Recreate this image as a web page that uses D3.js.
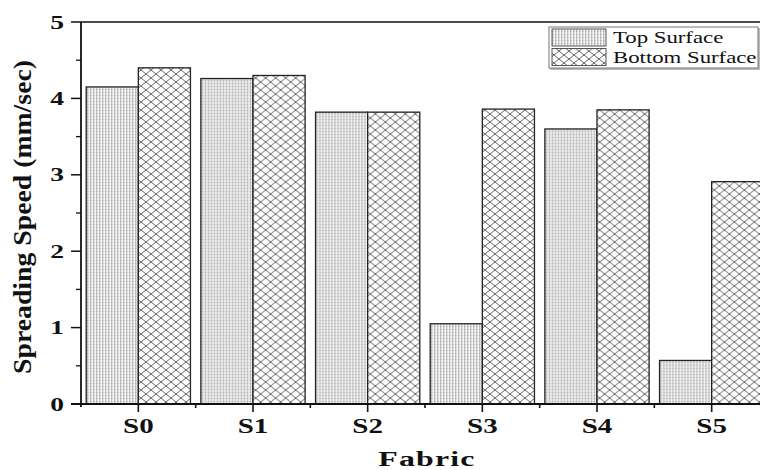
<!DOCTYPE html>
<html>
<head>
<meta charset="utf-8">
<script src="https://cdn.jsdelivr.net/npm/d3@7"></script>
<style>
  body { margin: 0; background: #fff; }
  svg { display: block; }
  text { font-family: "Liberation Serif", "Times New Roman", Times, serif; fill: #111; }
</style>
</head>
<body>
<div id="chart-container"></div>
<script>
const categories = ['S0', 'S1', 'S2', 'S3', 'S4', 'S5']
const topSurface = [4.15, 4.26, 3.82, 1.05, 3.60, 0.57]
const bottomSurface = [4.40, 4.30, 3.82, 3.86, 3.85, 2.91]
const seriesNames = ['Top Surface', 'Bottom Surface']
const yTicks = [0, 1, 2, 3, 4, 5]

const W = 760, H = 470
const margin = {top: 22, right: -9, bottom: 66, left: 81}
const width = W - margin.left - margin.right
const height = H - margin.top - margin.bottom
const stretch = 1.45  // text in the picture is stretched sideways

const svg = d3.select('#chart-container')
  .append('svg')
  .attr('width', W)
  .attr('height', H)

// fill patterns
const defs = svg.append('defs')
const pTop = defs.append('pattern')
  .attr('id', 'pat-top')
  .attr('patternUnits', 'userSpaceOnUse')
  .attr('width', 3).attr('height', 3)
pTop.append('rect').attr('width', 3).attr('height', 3).attr('fill', '#f4f4f4')
pTop.append('rect').attr('x', 0).attr('width', 1.3).attr('height', 3).attr('fill', '#c4c4c4')
pTop.append('rect').attr('x', 0).attr('y', 1).attr('width', 1.3).attr('height', 1).attr('fill', '#a8a8a8')

const pBot = defs.append('pattern')
  .attr('id', 'pat-bot')
  .attr('patternUnits', 'userSpaceOnUse')
  .attr('width', 10).attr('height', 8)
pBot.append('rect').attr('width', 10).attr('height', 8).attr('fill', '#fff')
pBot.append('path')
  .attr('d', 'M0,0L10,8M0,8L10,0M-5,4L0,8M5,-4L10,0M5,12L10,8M10,0L15,4')
  .attr('stroke', '#555').attr('stroke-width', 0.9).attr('fill', 'none')

const g = svg.append('g')
  .attr('transform', `translate(${margin.left},${margin.top})`)

const x = d3.scaleBand()
  .domain(categories)
  .range([0, width])

const x1 = d3.scaleBand()
  .domain(seriesNames)
  .range([0, x.bandwidth()])
  .paddingOuter(0.1)

const y = d3.scaleLinear()
  .domain([0, 5])
  .range([height, 0])

const data = categories.map((c, i) => ({cat: c, vals: [topSurface[i], bottomSurface[i]]}))
const fills = ['url(#pat-top)', 'url(#pat-bot)']

// bars
g.selectAll('.grp')
  .data(data)
  .join('g')
  .attr('class', 'grp')
  .attr('transform', d => `translate(${x(d.cat)},0)`)
  .selectAll('rect')
  .data(d => d.vals.map((v, j) => ({name: seriesNames[j], v, j})))
  .join('rect')
  .attr('x', d => x1(d.name))
  .attr('width', x1.bandwidth())
  .attr('y', d => y(d.v))
  .attr('height', d => height - y(d.v))
  .attr('fill', d => fills[d.j])
  .attr('stroke', '#222')
  .attr('stroke-width', 1.3)

// frame top line
g.append('line')
  .attr('x1', 0).attr('x2', width)
  .attr('y1', 0).attr('y2', 0)
  .attr('stroke', '#111').attr('stroke-width', 1.6)

// y axis
const yAxis = g.append('g')
yAxis.append('line')
  .attr('x1', 0).attr('x2', 0)
  .attr('y1', 0).attr('y2', height + 3)
  .attr('stroke', '#111').attr('stroke-width', 1.8)
const yMinor = d3.range(0.5, 5, 1)
yAxis.selectAll('.ymin').data(yMinor).join('line')
  .attr('x1', -5).attr('x2', 0)
  .attr('y1', d => y(d)).attr('y2', d => y(d))
  .attr('stroke', '#111').attr('stroke-width', 1.3)
yAxis.selectAll('.ymaj').data(yTicks).join('line')
  .attr('x1', -10).attr('x2', 0)
  .attr('y1', d => y(d)).attr('y2', d => y(d))
  .attr('stroke', '#111').attr('stroke-width', 1.5)
yAxis.selectAll('.ylab').data(yTicks).join('text')
  .attr('transform', d => `translate(-17,${y(d) + 6.5}) scale(${stretch},1)`)
  .attr('text-anchor', 'end')
  .attr('font-size', 19)
  .attr('font-weight', 'bold')
  .text(d => d)

// x axis
const xAxis = g.append('g').attr('transform', `translate(0,${height})`)
xAxis.append('line')
  .attr('x1', -10).attr('x2', width)
  .attr('stroke', '#111').attr('stroke-width', 1.8)
xAxis.selectAll('.xmaj').data(categories).join('line')
  .attr('x1', d => x(d) + x.bandwidth() / 2).attr('x2', d => x(d) + x.bandwidth() / 2)
  .attr('y1', 0).attr('y2', 8)
  .attr('stroke', '#111').attr('stroke-width', 1.6)
xAxis.selectAll('.xmin').data(categories.slice(1)).join('line')
  .attr('x1', d => x(d)).attr('x2', d => x(d))
  .attr('y1', 0).attr('y2', 4)
  .attr('stroke', '#111').attr('stroke-width', 1.6)
xAxis.selectAll('.xlab').data(categories).join('text')
  .attr('transform', d => `translate(${x(d) + x.bandwidth() / 2},29) scale(${stretch},1)`)
  .attr('text-anchor', 'middle')
  .attr('font-size', 20)
  .attr('font-weight', 'bold')
  .text(d => d)

// axis titles
svg.append('text')
  .attr('transform', `translate(427,466) scale(1.45,1)`)
  .attr('text-anchor', 'middle')
  .attr('font-size', 22)
  .attr('font-weight', 'bold')
  .attr('letter-spacing', 0.8)
  .text('Fabric')

svg.append('text')
  .attr('transform', `translate(31,217) rotate(-90) scale(1,${stretch})`)
  .attr('text-anchor', 'middle')
  .attr('font-size', 18)
  .attr('font-weight', 'bold')
  .attr('textLength', 314)
  .attr('lengthAdjust', 'spacingAndGlyphs')
  .text('Spreading Speed (mm/sec)')

// legend
const leg = svg.append('g').attr('transform', 'translate(549,27)')
leg.append('rect')
  .attr('x', 1).attr('y', 1)
  .attr('width', 210).attr('height', 42)
  .attr('fill', '#bbb')
leg.append('rect')
  .attr('width', 209).attr('height', 41)
  .attr('fill', '#fff').attr('stroke', '#777').attr('stroke-width', 1)
seriesNames.forEach((name, i) => {
  leg.append('rect')
    .attr('x', 3).attr('y', 2 + i * 19.5)
    .attr('width', 54).attr('height', 17)
    .attr('fill', fills[i])
    .attr('stroke', '#555').attr('stroke-width', 1)
  leg.append('text')
    .attr('transform', `translate(64,${16 + i * 20}) scale(1.34,1)`)
    .attr('font-size', 17)
    .text(name)
})
</script>
</body>
</html>
